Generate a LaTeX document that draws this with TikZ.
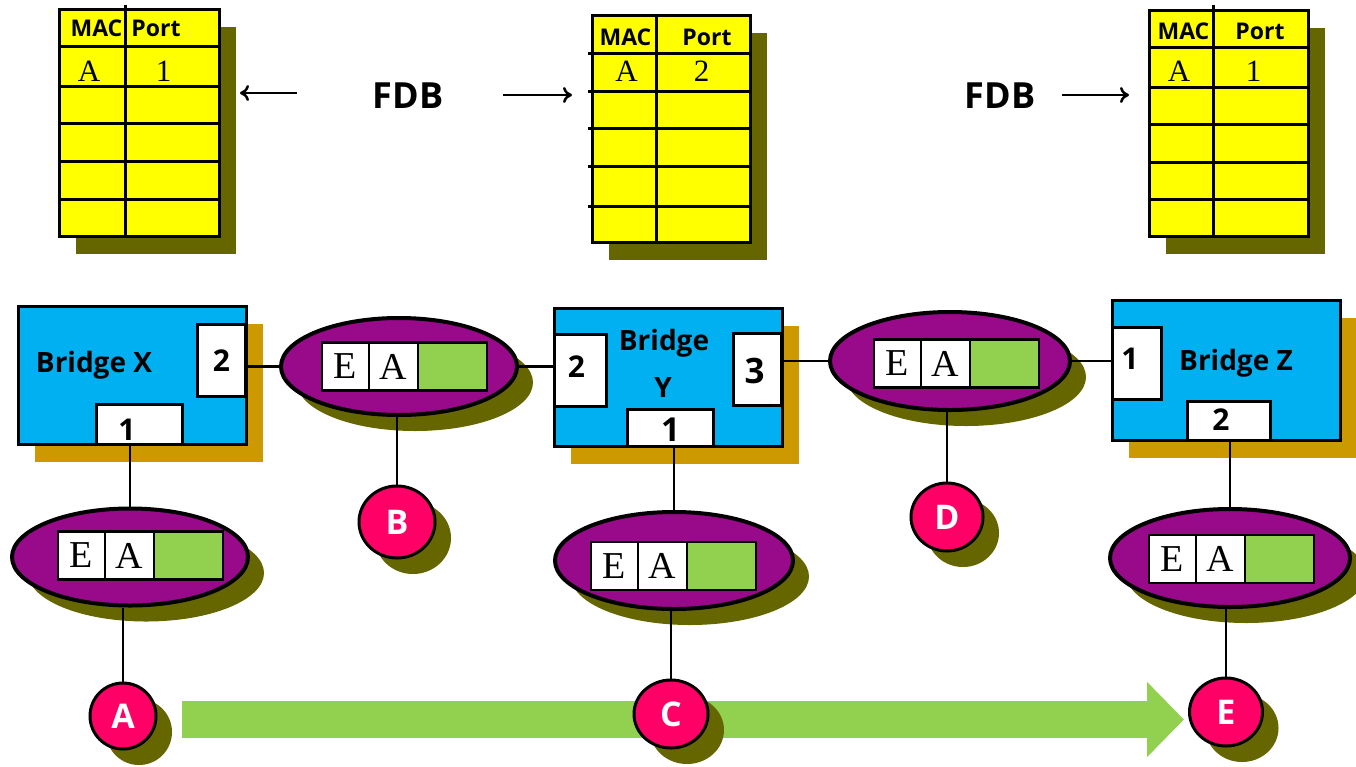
\documentclass[tikz,border=0pt]{standalone}
\usepackage{fontspec}
\newfontfamily\osans{Open Sans}
\newfontfamily\lmten{Liberation Serif}
\usetikzlibrary{shapes.geometric,shadows,arrows.meta}
\newcommand\setfs[1]{\fontsize{#1}{#1}\selectfont}
\definecolor{tyellow}{HTML}{FFFF00}
\definecolor{olv}{HTML}{666600}
\definecolor{bblue}{HTML}{00B0F0}
\definecolor{bshadow}{HTML}{CC9900}
\definecolor{purp}{HTML}{990A8A}
\definecolor{hpink}{HTML}{FF0066}
\definecolor{lgreen}{HTML}{92D050}
\pgfdeclarelayer{bg}
\pgfsetlayers{bg,main}
\newcommand\pktboxes[3]{%
  \node[ebox, anchor=west] (#1E) at (#2,#3) {E};
  \node[ebox, anchor=west, minimum width=49pt] (#1A) at (#1E.east) {A};
  \node[gbox, anchor=west] (#1G) at (#1A.east) {};
}
\begin{document}
\begin{tikzpicture}[x=1pt,y=-1pt,
  tbl/.style={draw, line width=3pt, fill=tyellow, inner sep=0pt,
    drop shadow={shadow xshift=16pt, shadow yshift=-17pt, fill=olv, opacity=1, draw=none}},
  tgrid/.style={line width=3pt},
  hdr/.style={font=\osans\bfseries\setfs{23}, anchor=base, inner sep=0pt},
  cellt/.style={font=\lmten\setfs{31}, anchor=base, inner sep=0pt},
  fdb/.style={font=\osans\bfseries\setfs{36}, anchor=base, inner sep=0pt},
  tarr/.style={line width=2.5pt, -{Computer Modern Rightarrow[length=9pt,width=16pt]}, shorten >=19pt},
  bridge/.style={draw, line width=3pt, fill=bblue, inner sep=0pt,
    drop shadow={shadow xshift=16pt, shadow yshift=-17pt, fill=bshadow, opacity=1, draw=none}},
  portbox/.style={draw, line width=3pt, fill=white, inner sep=0pt},
  pnum/.style={font=\osans\bfseries\setfs{30}, inner sep=0pt},
  btxt/.style={font=\osans\bfseries\setfs{28}, anchor=base, inner sep=0pt},
  pkt/.style={ellipse, draw, line width=4pt, fill=purp, inner sep=0pt,
    drop shadow={shadow xshift=16pt, shadow yshift=-16pt, fill=olv, opacity=1, draw=none}},
  ebox/.style={draw, line width=2.5pt, fill=white, minimum height=48pt, minimum width=47pt,
    inner sep=0pt, outer sep=0pt, font=\lmten\setfs{38}},
  gbox/.style={draw, line width=2.5pt, fill=lgreen, minimum height=48pt, minimum width=69pt,
    inner sep=0pt, outer sep=0pt},
  hostc/.style={ellipse, draw, line width=3pt, fill=hpink, text=white,
    font=\osans\bfseries\setfs{34}, inner sep=0pt,
    drop shadow={shadow xshift=16pt, shadow yshift=-16pt, fill=olv, opacity=1, draw=none}},
  link/.style={line width=2.5pt},
  bigarrow/.style={line width=37pt, draw=lgreen, line cap=butt, -{Triangle[length=37pt,width=73pt]}}
]
\useasboundingbox (0,0) rectangle (1356,766);

% ---------- FDB tables ----------
\node[tbl, minimum width=160pt, minimum height=227pt] (t1) at (139.5,123) {};
\draw[tgrid] (125,5) -- (125,238);
\foreach \yy in {46,86,123,161,199} \draw[tgrid] (58,\yy) -- (221,\yy);
\node[hdr] (t1mac) at (96.5,36.7) {MAC};
\node[hdr] (t1port) at (156,36.7) {Port};
\node[cellt] (t1a) at (89,81.7) {A};
\node[cellt] (t1p) at (163.5,81.7) {1};

\node[tbl, minimum width=158pt, minimum height=227pt] (t2) at (671.5,129) {};
\draw[tgrid] (656,14) -- (656,244);
\foreach \yy in {53,91,128,166,206} \draw[tgrid] (588,\yy) -- (752,\yy);
\node[hdr] (t2mac) at (625.5,45) {MAC};
\node[hdr] (t2port) at (707,45) {Port};
\node[cellt] (t2a) at (626.5,81.7) {A};
\node[cellt] (t2p) at (701.5,81.7) {2};

\node[tbl, minimum width=159pt, minimum height=226pt] (t3) at (1229,123.5) {};
\draw[tgrid] (1213,5) -- (1213,238);
\foreach \yy in {47,87,124,162,199} \draw[tgrid] (1148,\yy) -- (1310,\yy);
\node[hdr] (t3mac) at (1183.5,39) {MAC};
\node[hdr] (t3port) at (1260,39) {Port};
\node[cellt] (t3a) at (1179,81) {A};
\node[cellt] (t3p) at (1253.5,81) {1};

\node[fdb] (fdb1) at (408,108) {FDB};
\node[fdb] (fdb2) at (1000,108) {FDB};
\coordinate (a1s) at (297,93);
\coordinate (a2s) at (503,95);
\coordinate (a3s) at (1062,95);
\draw[tarr] (a1s) -- (a1s -| t1.east);
\draw[tarr] (a2s) -- (a2s -| t2.west);
\draw[tarr] (a3s) -- (a3s -| t3.west);

% ---------- Bridges ----------
\node[bridge, minimum width=228pt, minimum height=138pt] (bx) at (132.5,375.5) {};
\node[btxt] (bxt) at (94,372) {Bridge X};
\node[portbox, minimum width=48pt, minimum height=72pt, label={[pnum]center:2}] (xp2) at (221.5,360.5) {};
\node[portbox, minimum width=86pt, minimum height=40pt, label={[pnum, xshift=-12.5pt, yshift=-5.5pt]center:1}] (xp1) at (139.5,424.5) {};

\node[bridge, minimum width=228pt, minimum height=138pt] (by) at (668.5,377.5) {};
\node[btxt] (byt) at (664,350) {Bridge};
\node[btxt] (byt2) at (663,397) {Y};
\node[portbox, minimum width=52pt, minimum height=72pt, label={[pnum, xshift=-4pt, yshift=4pt]center:2}] (yp2) at (580.5,370.5) {};
\node[portbox, minimum width=48pt, minimum height=72pt, label={[pnum, font=\osans\bfseries\setfs{35}, xshift=-3pt, yshift=-1.5pt]center:3}] (yp3) at (757.5,369.5) {};
\node[portbox, minimum width=86pt, minimum height=37pt, label={[pnum, font=\osans\bfseries\setfs{33}, yshift=-1.5pt]center:1}] (yp1) at (670.5,428) {};

\node[bridge, minimum width=228pt, minimum height=140pt] (bz) at (1226.5,370.5) {};
\node[btxt] (bzt) at (1236,370) {Bridge Z};
\node[portbox, minimum width=49pt, minimum height=72pt, label={[pnum, xshift=-7pt, yshift=4.5pt]center:1}] (zp1) at (1137,363.5) {};
\node[portbox, minimum width=83pt, minimum height=39pt, label={[pnum, xshift=-8pt, yshift=1pt]center:2}] (zp2) at (1229,421) {};

% ---------- Frames (ellipses) ----------
\node[pkt, minimum width=236pt, minimum height=97pt] (e0) at (130,557) {};
\pktboxes{e0}{58}{555.5}
\node[pkt, minimum width=236pt, minimum height=97pt] (e1) at (399,366.5) {};
\pktboxes{e1}{322}{366.5}
\node[pkt, minimum width=240pt, minimum height=98pt] (e2) at (950,361) {};
\pktboxes{e2}{874}{363.5}
\node[pkt, minimum width=238pt, minimum height=97pt] (e3) at (674,560.5) {};
\pktboxes{e3}{591}{566}
\node[pkt, minimum width=240pt, minimum height=98pt] (e4) at (1230,558) {};
\pktboxes{e4}{1149}{559}

% ---------- Hosts ----------
\node[hostc, minimum width=66pt, minimum height=66pt] (cA) at (123,716) {A};
\node[hostc, minimum width=76pt, minimum height=72pt] (cB) at (397,522) {B};
\node[hostc, minimum width=74pt, minimum height=68pt] (cC) at (671,714) {C};
\node[hostc, minimum width=72pt, minimum height=68pt] (cD) at (947,517) {D};
\node[hostc, minimum width=73pt, minimum height=68pt] (cE) at (1226,712) {E};

% ---------- big green arrow ----------
\coordinate (gs) at (182,719.5);
\begin{pgfonlayer}{bg}
\draw[bigarrow, shorten >=4pt] (gs) -- (gs -| cE.west);
\end{pgfonlayer}

% ---------- links ----------
\draw[link] (e0.north) -- (e0.north |- xp1.south);
\draw[link] (cA.north) -- (cA.north |- e0.south);
\draw[link] (e1.west) -- (e1.west -| xp2.east);
\draw[link] (e1.east) -- (e1.east -| yp2.west);
\draw[link] (cB.north) -- (cB.north |- e1.south);
\draw[link] (e2.west) -- (e2.west -| yp3.east);
\draw[link] (e2.east) -- (e2.east -| zp1.west);
\draw[link] (cD.north) -- (cD.north |- e2.south);
\draw[link] (e3.north) -- (e3.north |- yp1.south);
\draw[link] (cC.north) -- (cC.north |- e3.south);
\draw[link] (e4.north) -- (e4.north |- zp2.south);
\draw[link] (cE.north) -- (cE.north |- e4.south);
\end{tikzpicture}
\end{document}
